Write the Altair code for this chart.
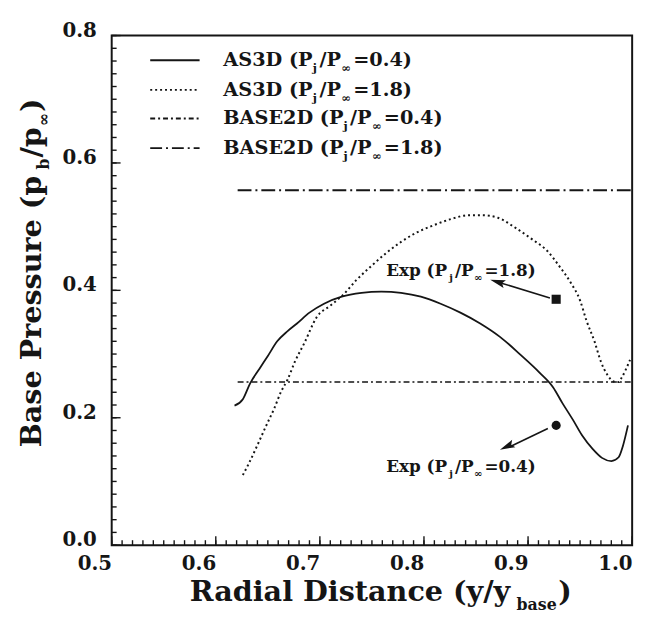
import altair as alt
import pandas as pd

# ---------------- data ----------------
as3d_04_x = [0.618, 0.626, 0.633, 0.642, 0.650, 0.659, 0.669, 0.678, 0.690, 0.704,
             0.721, 0.740, 0.759, 0.778, 0.797, 0.816, 0.835, 0.854, 0.873, 0.892,
             0.911, 0.924, 0.933, 0.943, 0.952, 0.962, 0.971, 0.980, 0.987, 0.991,
             0.996]
as3d_04_y = [0.219, 0.229, 0.254, 0.277, 0.297, 0.320, 0.336, 0.348, 0.365, 0.379,
             0.390, 0.396, 0.398, 0.396, 0.390, 0.379, 0.365, 0.348, 0.327, 0.300,
             0.271, 0.248, 0.223, 0.197, 0.172, 0.151, 0.137, 0.132, 0.138, 0.155,
             0.188]

as3d_18_x = [0.626, 0.632, 0.640, 0.648, 0.656, 0.663, 0.669, 0.676, 0.685, 0.697,
             0.710, 0.723, 0.735, 0.750, 0.764, 0.778, 0.792, 0.809, 0.826, 0.843,
             0.856, 0.871, 0.888, 0.904, 0.919, 0.930, 0.941, 0.950, 0.956, 0.964,
             0.970, 0.976, 0.982, 0.987, 0.990, 0.994, 0.998]
as3d_18_y = [0.110, 0.129, 0.157, 0.186, 0.214, 0.242, 0.260, 0.288, 0.317, 0.358,
             0.376, 0.394, 0.416, 0.439, 0.459, 0.476, 0.490, 0.502, 0.512, 0.518,
             0.518, 0.514, 0.498, 0.480, 0.461, 0.438, 0.412, 0.384, 0.353, 0.319,
             0.288, 0.268, 0.257, 0.256, 0.263, 0.276, 0.291]

base2d_x = [0.621, 1.0]
base2d_04_y = [0.256, 0.256]
base2d_18_y = [0.557, 0.557]

exp_x = [0.927, 0.927]
exp_y = [0.188, 0.386]
exp_shape = ["circle", "square"]

arrow_id = ["a04", "a04", "a18", "a18"]
arrow_x = [0.919, 0.882, 0.921, 0.873]
arrow_y = [0.183, 0.154, 0.388, 0.412]
arrow_tip_x = [0.880, 0.871]
arrow_tip_y = [0.155, 0.413]
arrow_tip_angle = [246, 287]

x_ticks = [0.5, 0.6, 0.7, 0.8, 0.9, 1.0]
y_ticks = [0.0, 0.2, 0.4, 0.6, 0.8]
x_tick_labels = ["0.5", "0.6", "0.7", "0.8", "0.9", "1.0"]
y_tick_labels = ["0.0", "0.2", "0.4", "0.6", "0.8"]
x_minor = [round(0.5 + 0.01 * i, 2) for i in range(51)]
y_minor = [round(0.02 * i, 2) for i in range(41)]

legend_labels = ["AS3D", "AS3D", "BASE2D", "BASE2D"]
legend_ratio = ["0.4", "1.8", "0.4", "1.8"]

# ---------------- styling ----------------
W, H = 527, 516
X0, X1, Y0, Y1 = 0.5, 1.0, 0.0, 0.8
FONT = "DejaVu Serif"
INK = "#151515"

xs = alt.Scale(domain=[X0, X1], nice=False, zero=False)
ys = alt.Scale(domain=[Y0, Y1], nice=False, zero=False)

# approximate advance widths (em) of DejaVu Serif Bold
WEM = {' ': .348, '(': .473, ')': .473, '.': .381, '/': .367, '=': .838,
       'A': .774, 'B': .81, 'D': .85, 'E': .78, 'P': .73, 'R': .79, 'S': .74,
       'a': .675, 'b': .71, 'c': .591, 'd': .71, 'e': .666, 'i': .382, 'j': .365,
       'l': .382, 'n': .727, 'p': .71, 'r': .532, 's': .595, 't': .466, 'u': .727,
       'x': .671, 'y': .655, '∞': .833}
for d in "0123456789":
    WEM[d] = .696


def rich(segs, x0, y0, fs, rot=False, sub_scale=0.6, sub_shift=0.3, gap=0.0, sub_gap=0.0):
    """Lay out text pieces (with subscripts) starting at plot-pixel (x0, y0)."""
    rows, pos = [], 0.0
    for txt, sub in segs:
        size = fs * sub_scale if sub else fs
        shift = fs * sub_shift if sub else 0.0
        w = sum(WEM.get(c, .6) for c in txt) * size + gap * fs + (sub_gap * fs if sub else 0)
        if rot:
            px, py = x0 + shift, y0 - pos
        else:
            px, py = x0 + pos, y0 + shift
        rows.append(dict(tx=X0 + px / W * (X1 - X0), ty=Y1 - py / H * (Y1 - Y0),
                         t=txt, fs=size))
        pos += w
    return rows


def ratio_segs(prefix, val):
    return [(prefix + " (P", False), ("j", True), ("/P", False), ("∞", True),
            ("=" + val + ")", False)]


# ---------------- curves ----------------
def curve(x, y, width, dash=None):
    df = pd.DataFrame({"x": x, "y": y})
    kw = dict(color=INK, strokeWidth=width, interpolate="monotone")
    if dash:
        kw["strokeDash"] = dash
    return alt.Chart(df).mark_line(**kw).encode(
        x=alt.X("x:Q", scale=xs, axis=None),
        y=alt.Y("y:Q", scale=ys, axis=None),
    )


solid = curve(as3d_04_x, as3d_04_y, 1.8)
dotted = curve(as3d_18_x, as3d_18_y, 2.0, [2, 3])
b04 = curve(base2d_x, base2d_04_y, 1.6, [6, 3, 2, 3])
b18 = curve(base2d_x, base2d_18_y, 2.0, [14, 4, 2, 4])

# ---------------- inward ticks and tick labels ----------------
def yticks(vals, ln):
    return alt.Chart(pd.DataFrame({"y": vals})).mark_rule(color=INK, strokeWidth=1.4).encode(
        y=alt.Y("y:Q", scale=ys, axis=None), x=alt.value(0), x2=alt.value(ln))


def xticks(vals, ln):
    return alt.Chart(pd.DataFrame({"x": vals})).mark_rule(color=INK, strokeWidth=1.4).encode(
        x=alt.X("x:Q", scale=xs, axis=None), y=alt.value(H), y2=alt.value(H - ln))


ticks = [yticks(y_minor, 5), yticks(y_ticks, 9), xticks(x_minor, 5), xticks(x_ticks, 9)]

xlab = alt.Chart(pd.DataFrame({"x": x_ticks, "t": x_tick_labels})).mark_text(
    font=FONT, fontWeight="bold", fontSize=20, color=INK, align="center",
    baseline="top", dx=-17
).encode(x=alt.X("x:Q", scale=xs, axis=None), y=alt.value(H + 9), text="t:N")

ylab = alt.Chart(pd.DataFrame({"y": y_ticks, "t": y_tick_labels})).mark_text(
    font=FONT, fontWeight="bold", fontSize=20, color=INK, align="right",
    baseline="middle", dy=-5
).encode(y=alt.Y("y:Q", scale=ys, axis=None), x=alt.value(-15), text="t:N")

# ---------------- experimental points and arrows ----------------
exp_df = pd.DataFrame({"x": exp_x, "y": exp_y, "shape": exp_shape})
exp_pts = alt.Chart(exp_df).mark_point(filled=True, color=INK, opacity=1, size=85).encode(
    x=alt.X("x:Q", scale=xs, axis=None),
    y=alt.Y("y:Q", scale=ys, axis=None),
    shape=alt.Shape("shape:N", scale=None, legend=None),
)

arr_df = pd.DataFrame({"id": arrow_id, "x": arrow_x, "y": arrow_y, "o": [0, 1, 0, 1]})
arrows = alt.Chart(arr_df).mark_line(color=INK, strokeWidth=1.6).encode(
    x=alt.X("x:Q", scale=xs, axis=None),
    y=alt.Y("y:Q", scale=ys, axis=None),
    detail="id:N", order="o:Q",
)
tip_df = pd.DataFrame({"x": arrow_tip_x, "y": arrow_tip_y, "a": arrow_tip_angle})
tips = alt.Chart(tip_df).mark_point(
    shape="M0,-1L0.5,0.9L0,0.55L-0.5,0.9Z", filled=True, color=INK, opacity=1, size=260
).encode(
    x=alt.X("x:Q", scale=xs, axis=None),
    y=alt.Y("y:Q", scale=ys, axis=None),
    angle=alt.Angle("a:Q", scale=None),
)

# ---------------- legend ----------------
leg_base = [31, 61, 90, 120]
leg_dash = [None, [2, 3], [5, 3, 2, 3], [12, 4, 2, 4]]
leg_layers = []
for yb, dash in zip(leg_base, leg_dash):
    kw = dict(color=INK, strokeWidth=1.8)
    if dash:
        kw["strokeDash"] = dash
    leg_layers.append(alt.Chart(pd.DataFrame({"k": [0]})).mark_rule(**kw).encode(
        x=alt.value(39), x2=alt.value(89), y=alt.value(yb - 6)))

text_rows = []
for lab, val, yb in zip(legend_labels, legend_ratio, leg_base):
    text_rows += rich(ratio_segs(lab, val), 113, yb, 19.5, gap=0.04, sub_gap=0.08)
text_rows += rich(ratio_segs("Exp", "1.8"), 278, 243, 17, gap=0.04, sub_gap=0.08)
text_rows += rich(ratio_segs("Exp", "0.4"), 278, 442, 17, gap=0.04, sub_gap=0.08)
text_rows += rich([("Radial Distance (y/y", False), ("base", True), (")", False)],
                  79, 573, 29, sub_scale=0.55, sub_shift=0.3)

htext = alt.Chart(pd.DataFrame(text_rows)).mark_text(
    font=FONT, fontWeight="bold", color=INK, align="left", baseline="alphabetic"
).encode(
    x=alt.X("tx:Q", scale=xs, axis=None),
    y=alt.Y("ty:Q", scale=ys, axis=None),
    text="t:N",
    size=alt.Size("fs:Q", scale=None, legend=None),
)

vrows = rich([("Base Pressure (p", False), ("b", True), ("/p", False), ("∞", True), (")", False)],
             -72, 417, 29, rot=True, sub_scale=0.55, sub_shift=0.3, gap=0.03)
vtext = alt.Chart(pd.DataFrame(vrows)).mark_text(
    font=FONT, fontWeight="bold", color=INK, align="left", baseline="alphabetic", angle=270
).encode(
    x=alt.X("tx:Q", scale=xs, axis=None),
    y=alt.Y("ty:Q", scale=ys, axis=None),
    text="t:N",
    size=alt.Size("fs:Q", scale=None, legend=None),
)

chart = alt.layer(
    solid, dotted, b04, b18, *ticks, xlab, ylab, exp_pts, arrows, tips, *leg_layers,
    htext, vtext
).properties(
    width=W, height=H,
    autosize=alt.AutoSizeParams(type="none"),
    padding={"left": 105, "top": 24, "right": 12, "bottom": 80},
    background="white",
).configure_view(
    stroke=INK, strokeWidth=2, clip=False
)

chart.save("out.html", embed_options={"renderer": "svg", "actions": False})
